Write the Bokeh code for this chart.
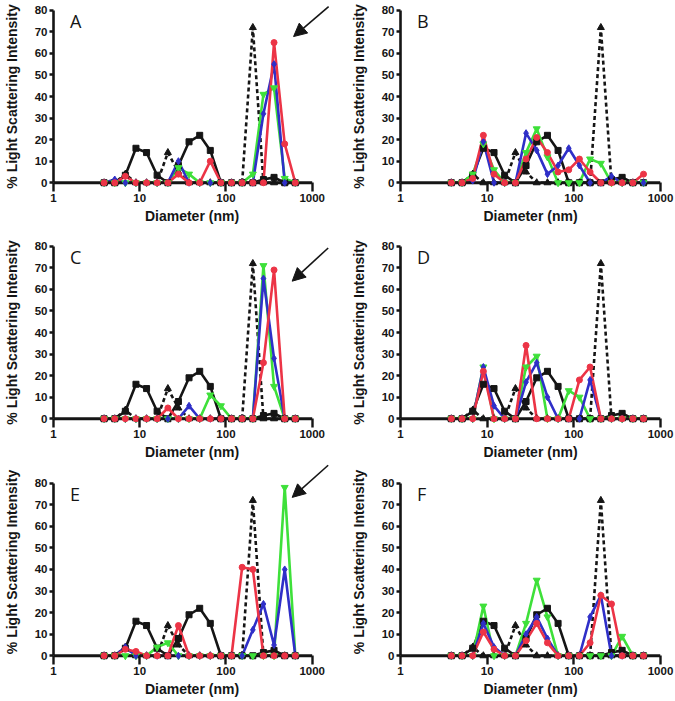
from bokeh.plotting import figure
from bokeh.layouts import column, row
from bokeh.models import Range1d, FixedTicker, PrintfTickFormatter, Arrow, NormalHead, Label
from bokeh.embed import file_html
from bokeh.resources import INLINE

# ---- data -----------------------------------------------------------
x_bins = [3.86, 5.13, 6.81, 9.04, 12.0, 15.9, 21.2, 28.1, 37.3, 49.6,
          65.8, 87.4, 116, 154, 205, 272, 361, 480, 637]

ref_solid = [0, 0, 3.5, 16, 14, 3.5, 0, 8, 19, 22, 15, 0, 0, 0, 0, 1.5, 2.5, 0, 0]
ref_dashed = [0, 0, 4, 0, 0, 0, 14, 5, 0, 0, 0, 0, 0, 0, 72, 0, 0, 0, 0]

a_blue = [0, 1.5, 0, 0, 0, 0, 0, 10, 0, 0, 0, 0, 0, 0, 0, 32, 55, 0, 0]
a_green = [0, 0, 0, 0, 0, 0, 0, 7, 4, 0, 0, 0, 0, 0, 4, 41, 44, 2, 0]
a_red = [0, 0, 3, 0, 0, 0, 0, 4, 0, 0, 10, 0, 0, 0, 0, 0, 65, 18, 0]

b_blue = [0, 0, 1, 19, 0, 0, 0, 23, 15, 4, 8, 16, 8, 0, 0, 3, 0, 0, 0]
b_green = [0, 0, 4, 18, 6, 0, 0, 14, 25, 12, 0, 0, 0, 11, 9, 0, 0, 0, 0]
b_red = [0, 0, 2, 22, 4, 0, 0, 11, 21, 14, 5, 6, 11, 5, 0, 0, 0, 0, 4]

c_blue = [0, 0, 0, 0, 0, 0, 0, 0, 6, 0, 0, 0, 0, 0, 0, 65, 28, 0, 0]
c_green = [0, 0, 0, 0, 0, 0, 0, 0, 0, 0, 11, 6, 0, 0, 0, 71, 15, 0, 0]
c_red = [0, 0, 0, 0, 0, 0, 5, 0, 0, 0, 0, 0, 0, 0, 0, 26, 69, 0, 0]

d_blue = [0, 0, 0, 24, 6, 0, 0, 17, 26, 10, 0, 0, 0, 18, 0, 0, 0, 0, 0]
d_green = [0, 0, 0, 24, 0, 0, 0, 24, 29, 0, 0, 13, 10, 0, 0, 0, 0, 0, 0]
d_red = [0, 0, 0, 22, 0, 0, 0, 34, 0, 0, 0, 0, 18, 24, 0, 0, 0, 0, 0]

e_blue = [0, 0, 4, 0, 0, 0, 0, 0, 0, 0, 0, 0, 0, 0, 12, 24, 5, 40, 0]
e_green = [0, 0, 0, 0, 0, 4, 6, 0, 0, 0, 0, 0, 0, 0, 0, 0, 0, 78, 0]
e_red = [0, 0, 3, 2, 0, 0, 0, 14, 0, 0, 0, 0, 0, 41, 40, 0, 0, 0, 0]

f_blue = [0, 0, 0, 15, 4, 0, 0, 10, 18, 8, 0, 0, 0, 18, 28, 0, 0, 0, 0]
f_green = [0, 0, 0, 23, 0, 0, 0, 15, 35, 18, 0, 0, 0, 0, 0, 0, 9, 0, 0]
f_red = [0, 0, 0, 11, 3, 0, 0, 7, 15, 6, 0, 0, 0, 6, 28, 24, 0, 0, 0]

y_ticks = [0, 10, 20, 30, 40, 50, 60, 70, 80]
x_ticks = [1, 10, 100, 1000]

# ---- style ------------------------------------------------------------
BLACK = "#151515"
BLUE = "#2f2fc8"
GREEN = "#3ee03a"
RED = "#ec3446"
FONT = "Liberation Sans"
Y0 = -2.2          # a little room below zero so markers on the axis are not cut
PX_PER_UNIT = 182 / 84.4


def make_panel(letter, blue, green, red, left, top_border, bottom_border,
               y_top=82.2, arrow=None):
    if left:
        xr = Range1d(1, 1630)
        fw, bl, br = 277, 50, 3
    else:
        xr = Range1d(1, 1000)
        fw, bl, br = 260, 67, 17
    fh = int(round((y_top - Y0) * PX_PER_UNIT))
    p = figure(x_axis_type="log", x_range=xr, y_range=Range1d(Y0, y_top),
               frame_width=fw, frame_height=fh,
               min_border_left=bl, min_border_right=br,
               min_border_top=top_border, min_border_bottom=bottom_border,
               output_backend="svg", toolbar_location=None,
               x_axis_label="Diameter (nm)",
               y_axis_label="% Light Scattering Intensity")
    p.outline_line_color = None
    p.grid.visible = False
    p.background_fill_color = "white"
    p.border_fill_color = "white"

    for ax in (p.xaxis[0], p.yaxis[0]):
        ax.axis_line_width = 2.6
        ax.axis_line_color = BLACK
        ax.major_tick_line_width = 2.4
        ax.major_tick_line_color = BLACK
        ax.major_tick_in = 0
        ax.major_tick_out = 4
        ax.minor_tick_line_color = None
        ax.major_label_text_font = FONT
        ax.major_label_text_font_style = "bold"
        ax.major_label_text_font_size = "11.5px"
        ax.major_label_text_color = BLACK
        ax.axis_label_text_font = FONT
        ax.axis_label_text_font_style = "bold"
        ax.axis_label_text_font_size = "14px"
        ax.axis_label_text_color = BLACK
        ax.major_label_standoff = 2

    p.xaxis.ticker = FixedTicker(ticks=x_ticks)
    p.xaxis.formatter = PrintfTickFormatter(format="%d")
    p.xaxis.axis_line_color = None
    p.xaxis.major_tick_in = int(round(-Y0 * PX_PER_UNIT))
    p.xaxis.axis_label_standoff = 3
    p.yaxis.ticker = FixedTicker(ticks=y_ticks)
    p.yaxis.bounds = (0, 80)
    p.yaxis.axis_label_standoff = 12

    # reference (dashed), reference (solid), then samples
    p.line(x_bins, ref_dashed, line_color=BLACK, line_width=2.6, line_dash="4 3")
    p.line(x_bins, ref_solid, line_color=BLACK, line_width=2.6)
    p.line(x_bins, green, line_color=GREEN, line_width=2.6)
    p.line(x_bins, blue, line_color=BLUE, line_width=2.6)
    p.line(x_bins, red, line_color=RED, line_width=2.6)
    # x axis line at zero, above the lines, below the markers
    p.segment(x0=[x_ticks[0]], y0=[0], x1=[x_ticks[-1]], y1=[0],
              line_color=BLACK, line_width=2.8)
    p.scatter(x_bins, ref_dashed, marker="triangle", size=7, color=BLACK)
    p.scatter(x_bins, ref_solid, marker="square", size=6, color=BLACK)
    p.scatter(x_bins, green, marker="inverted_triangle", size=7, color=GREEN)
    p.scatter(x_bins, blue, marker="diamond", size=7, color=BLUE)
    p.scatter(x_bins, red, marker="circle", size=6, color=RED)

    p.add_layout(Label(x=1.55, y=80.5, text=letter, text_font="Open Sans",
                       text_font_size="18px", text_baseline="top",
                       text_color=BLACK))
    if arrow is not None:
        xs, ys, xe, ye = arrow
        p.add_layout(Arrow(x_start=xs, y_start=ys, x_end=xe, y_end=ye,
                           line_width=1.6, line_color=BLACK,
                           end=NormalHead(size=13, fill_color=BLACK,
                                          line_color=BLACK, line_width=1)))
    return p


pA = make_panel("A", a_blue, a_green, a_red, True, 5, 48, arrow=(1550, 81.7, 608, 67.8))
pB = make_panel("B", b_blue, b_green, b_red, False, 5, 48)
pC = make_panel("C", c_blue, c_green, c_red, True, 6, 40, arrow=(1532, 79.2, 586, 63.8))
pD = make_panel("D", d_blue, d_green, d_red, False, 6, 40)
pE = make_panel("E", e_blue, e_green, e_red, True, 0, 40, y_top=89.1,
                arrow=(1532, 88.3, 586, 73.4))
pF = make_panel("F", f_blue, f_green, f_red, False, 0, 40, y_top=89.1)

layout = column(row(pA, pB), row(pC, pD), row(pE, pF))

open("out.html", "w").write(file_html(layout, INLINE))
